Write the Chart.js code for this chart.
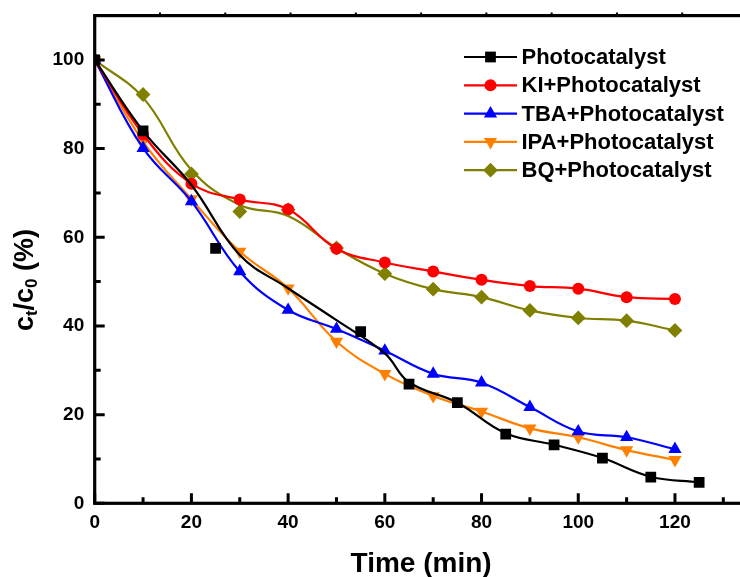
<!DOCTYPE html>
<html><head><meta charset="utf-8">
<script src="https://cdn.jsdelivr.net/npm/chart.js@4/dist/chart.umd.min.js"></script>
<style>html,body{margin:0;padding:0;overflow:hidden;background:#fff}canvas{display:block}</style>
</head><body>
<canvas id="c" width="760" height="577"></canvas>
<script>
// ---------- data ----------
const seriesNames = ['Photocatalyst','KI+Photocatalyst','TBA+Photocatalyst','IPA+Photocatalyst','BQ+Photocatalyst'];
const xTickValues = [0,20,40,60,80,100,120];
const yTickValues = [0,20,40,60,80,100];
const timeMin = [0,10,20,30,40,50,60,70,80,90,100,110,120];
const photoTime = [0,10,25,55,65,75,85,95,105,115,125];
const photoValues = [100,84,57.5,38.7,26.9,22.7,15.6,13.2,10.2,5.9,4.7];
const photoCurveTime = [0,10,20,30,40,50,60,65,75,85,95,105,115,125];
const photoCurveValues = [100,84,71.8,56,48.5,41.3,33.8,27.3,22.7,15.8,13.2,10.2,6,4.7];
const kiValues = [100,83.2,72.1,68.5,66.3,57.4,54.3,52.3,50.4,49,48.4,46.5,46.1];
const tbaValues = [100,80.1,68.1,52.3,43.6,39.3,34.4,29.2,27.2,21.7,16.2,14.9,12.2];
const ipaValues = [100,81.6,68.6,56.8,48.5,36.5,29.2,24.2,20.7,16.9,14.9,12,9.8];
const bqValues = [100,92.2,74.3,65.8,66.2,57.6,51.8,48.3,46.5,43.5,41.8,41.2,39];
const bqCurveValues = [100,91.5,75.2,67.3,64.8,57.6,51.8,48.3,46.5,43.5,41.8,41.2,39];

// ---------- styles ----------
const FONT = "'Liberation Sans', Arial, Helvetica, sans-serif";
const colors = ['#000000','#ff0000','#0000ff','#ff8000','#808000'];
const styles = [
  {pointStyle:'rect', radius:7.6, rotation:0},
  {pointStyle:'circle', radius:6, rotation:0},
  {pointStyle:'triangle', radius:7.6, rotation:0},
  {pointStyle:'triangle', radius:7.6, rotation:180},
  {pointStyle:'rectRot', radius:7.4, rotation:0}
];
const pts = (xs, ys) => xs.map((x,i)=>({x:x, y:ys[i]}));
const TENSION = 0.4;
const LW = 2.2;

function lineSet(label, data, i){
  return {label, data, borderColor:colors[i], borderWidth:LW, pointRadius:0, tension:TENSION, fill:false};
}
function markerSet(label, data, i){
  return {label, data, showLine:false, borderColor:colors[i], pointBackgroundColor:colors[i],
    pointBorderColor:colors[i], pointBorderWidth:0, pointStyle:styles[i].pointStyle,
    pointRadius:styles[i].radius, pointRotation:styles[i].rotation};
}
function fullSet(label, data, i){
  return Object.assign(markerSet(label, data, i), {showLine:true, borderWidth:LW, tension:TENSION, fill:false});
}

const datasets = [
  lineSet(seriesNames[0]+' curve', pts(photoCurveTime, photoCurveValues), 0),
  markerSet(seriesNames[0], pts(photoTime, photoValues), 0),
  fullSet(seriesNames[1], pts(timeMin, kiValues), 1),
  fullSet(seriesNames[2], pts(timeMin, tbaValues), 2),
  fullSet(seriesNames[3], pts(timeMin, ipaValues), 3),
  lineSet(seriesNames[4]+' curve', pts(timeMin, bqCurveValues), 4),
  markerSet(seriesNames[4], pts(timeMin, bqValues), 4)
];

// marker drawing (same geometry as Chart.js)
function drawMarker(ctx, st, x, y, color){
  const r = st.radius; const rad = st.rotation*Math.PI/180;
  ctx.save(); ctx.fillStyle=color; ctx.beginPath();
  if (st.pointStyle==='circle'){ ctx.arc(x,y,r,0,Math.PI*2); }
  else if (st.pointStyle==='rect'){ const s=Math.SQRT1_2*r; ctx.rect(x-s,y-s,2*s,2*s); }
  else if (st.pointStyle==='rectRot'){ ctx.moveTo(x,y-r); ctx.lineTo(x+r,y); ctx.lineTo(x,y+r); ctx.lineTo(x-r,y); ctx.closePath(); }
  else if (st.pointStyle==='triangle'){
    let a=rad; ctx.moveTo(x+Math.sin(a)*r, y-Math.cos(a)*r);
    a+=2*Math.PI/3; ctx.lineTo(x+Math.sin(a)*r, y-Math.cos(a)*r);
    a+=2*Math.PI/3; ctx.lineTo(x+Math.sin(a)*r, y-Math.cos(a)*r); ctx.closePath();
  }
  ctx.fill(); ctx.restore();
}

const framePlugin = {
  id:'frame',
  afterDatasetsDraw(chart){
    const {ctx, chartArea:a, scales:{x, y}} = chart;
    ctx.save();
    ctx.strokeStyle='#000'; ctx.lineWidth=3.2; ctx.lineCap='butt';
    ctx.strokeRect(a.left, a.top, a.right-a.left, a.bottom-a.top);
    ctx.lineWidth=3;
    ctx.beginPath();
    for (let v=0; v<=x.max; v+=10){
      const px = x.getPixelForValue(v); const L = (v%20===0)?10:6;
      ctx.moveTo(px, a.bottom); ctx.lineTo(px, a.bottom-L);
    }
    for (let v=0; v<=y.max; v+=10){
      const py = y.getPixelForValue(v); const L = (v%20===0)?10:6;
      ctx.moveTo(a.left, py); ctx.lineTo(a.left+L, py);
    }
    ctx.stroke();
    // small outward ticks on the top axis (ten divisions)
    ctx.lineWidth=2; ctx.beginPath();
    for (let k=1; k<10; k++){
      const px = x.getPixelForValue(x.max*k/10);
      ctx.moveTo(px, a.top-1.5); ctx.lineTo(px, a.top-3);
    }
    ctx.stroke();
    ctx.restore();
  },
  afterDraw(chart){
    const ctx = chart.ctx;
    // legend
    ctx.save();
    const lx0=464, lx1=517, tx=521.5, y0=57, dy=28.3;
    ctx.font = 'bold 22px '+FONT; ctx.textBaseline='middle'; ctx.textAlign='left';
    seriesNames.forEach((name,i)=>{
      const yy = y0 + i*dy;
      ctx.strokeStyle=colors[i]; ctx.lineWidth=LW;
      ctx.beginPath(); ctx.moveTo(lx0,yy); ctx.lineTo(lx1,yy); ctx.stroke();
      drawMarker(ctx, styles[i], (lx0+lx1)/2, yy, colors[i]);
      ctx.fillStyle='#000'; ctx.fillText(name, tx, yy+1);
    });
    ctx.restore();
    // y axis title with subscripts
    ctx.save();
    ctx.translate(32.5, 280); ctx.rotate(-Math.PI/2);
    const parts = [['c',27,0],['t',17,4],['/',27,0],['c',27,0],['0',17,4],[' (%)',27,0]];
    let W=0; parts.forEach(p=>{ctx.font='bold '+p[1]+'px '+FONT; W+=ctx.measureText(p[0]).width;});
    let cx=-W/2; ctx.fillStyle='#000'; ctx.textBaseline='alphabetic';
    parts.forEach(p=>{ctx.font='bold '+p[1]+'px '+FONT; ctx.fillText(p[0], cx, p[2]); cx+=ctx.measureText(p[0]).width;});
    ctx.restore();
  }
};

new Chart(document.getElementById('c'), {
  type:'line',
  data:{datasets},
  options:{
    responsive:false, animation:false, events:[],
    layout:{padding:{top:15.6, right:12.5, left:0, bottom:0}},
    plugins:{legend:{display:false}, tooltip:{enabled:false}},
    scales:{
      x:{type:'linear', min:0, max:135,
        afterFit(s){ s.height = 73.7; s.paddingLeft = 0; s.paddingRight = 0; },
        afterBuildTicks(s){ s.ticks = xTickValues.map(v=>({value:v})); },
        ticks:{includeBounds:false, stepSize:20, padding:8, color:'#000', font:{family:FONT, size:19, weight:'bold'}, maxRotation:0},
        grid:{display:false, drawTicks:false}, border:{display:false},
        title:{display:true, text:'Time (min)', color:'#000', padding:{top:0,bottom:-4}, font:{family:FONT, size:28, weight:'bold'}}
      },
      y:{type:'linear', min:0, max:110,
        afterFit(s){ s.width = 94.7; s.paddingTop = 0; s.paddingBottom = 0; },
        afterBuildTicks(s){ s.ticks = yTickValues.map(v=>({value:v})); },
        ticks:{includeBounds:false, stepSize:20, padding:10.5, color:'#000', font:{family:FONT, size:19, weight:'bold'}},
        grid:{display:false, drawTicks:false}, border:{display:false},
        title:{display:false}
      }
    }
  },
  plugins:[framePlugin]
});
</script>
</body></html>
